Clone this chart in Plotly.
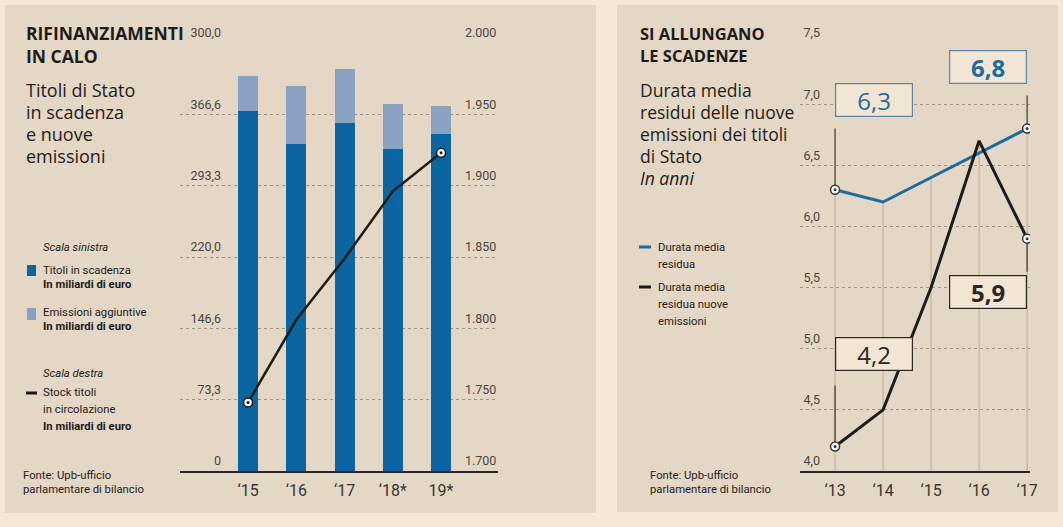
import plotly.graph_objects as go

# ---------------- data ----------------
years_left = ["\u201815", "\u201816", "\u201817", "\u201818*", "19*"]
titoli_scadenza = [370, 336, 358, 331, 346]
emissioni_aggiuntive = [36, 60, 55, 46, 29]
stock_titoli = [1748, 1806, 1849, 1896, 1923]

left_tickvals = [0, 73.33, 146.67, 220, 293.33, 366.67, 440]
left_ticktext = ["0", "73,3", "146,6", "220,0", "293,3", "366,6", "300,0"]
right_tickvals = [1700, 1750, 1800, 1850, 1900, 1950, 2000]
right_ticktext = ["1.700", "1.750", "1.800", "1.850", "1.900", "1.950", "2.000"]

years_right = ["\u201813", "\u201814", "\u201815", "\u201816", "\u201817"]
durata_residua = [6.3, 6.2, 6.4, 6.6, 6.8]
durata_nuove = [4.2, 4.5, 5.5, 6.7, 5.9]
r_tickvals = [4.0, 4.5, 5.0, 5.5, 6.0, 6.5, 7.0, 7.5]
r_ticktext = ["4,0", "4,5", "5,0", "5,5", "6,0", "6,5", "7,0", "7,5"]

# ---------------- style ----------------
W, H = 1063, 527
OUTER = "#f6e8d8"
PANEL = "#e5d7c5"
DARK_BLUE = "#0a65a0"
LIGHT_BLUE = "#8ba1c1"
LINE_BLUE = "#1b6d9f"
BLACK = "#1e1c1a"
GRID = "#a0927f"
DROP = "#bcab94"
TXT = "#1e1c1a"
TICK = "#4a4540"
FONT = "Roboto"
HFONT = "Open Sans"
BOXBG = "#f3e5d4"


def px(x):
    return x / W


def py(y):
    return 1 - y / H


def fmt(v):
    return f"{v:.1f}".replace(".", ",")


fig = go.Figure()

# ---------------- left chart ----------------
fig.add_trace(go.Bar(x=years_left, y=titoli_scadenza, marker_color=DARK_BLUE,
                     width=0.415, xaxis="x", yaxis="y", showlegend=False))
fig.add_trace(go.Bar(x=years_left, y=emissioni_aggiuntive, marker_color=LIGHT_BLUE,
                     width=0.415, xaxis="x", yaxis="y", showlegend=False))
fig.add_trace(go.Scatter(x=years_left, y=stock_titoli, mode="lines",
                         line=dict(color=BLACK, width=2.5), xaxis="x", yaxis="y2",
                         showlegend=False))
ends_x = [years_left[0], years_left[-1]]
ends_y = [stock_titoli[0], stock_titoli[-1]]
fig.add_trace(go.Scatter(x=ends_x, y=ends_y, mode="markers",
                         marker=dict(size=9, color="white", line=dict(color=BLACK, width=1.5)),
                         xaxis="x", yaxis="y2", showlegend=False))
fig.add_trace(go.Scatter(x=ends_x, y=ends_y, mode="markers",
                         marker=dict(size=3, color=BLACK),
                         xaxis="x", yaxis="y2", showlegend=False))

# ---------------- right chart ----------------
ymin = r_tickvals[0]
dx, dy = [], []
for yr, a, b in zip(years_right, durata_residua, durata_nuove):
    dx += [yr, yr, None]
    dy += [ymin, max(a, b), None]
fig.add_trace(go.Scatter(x=dx, y=dy, mode="lines", line=dict(color=DROP, width=1),
                         xaxis="x2", yaxis="y3", showlegend=False, hoverinfo="skip"))

# connectors to callout boxes
cx = [years_right[0], years_right[0], None, years_right[0], years_right[0], None,
      years_right[-1], years_right[-1], None, years_right[-1], years_right[-1]]
cy = [durata_residua[0], durata_residua[0] + 0.5, None,
      durata_nuove[0], durata_nuove[0] + 0.5, None,
      durata_residua[-1], durata_residua[-1] + 0.27, None,
      durata_nuove[-1], durata_nuove[-1] - 0.27]
fig.add_trace(go.Scatter(x=cx, y=cy, mode="lines", line=dict(color="#3a342e", width=1.2),
                         xaxis="x2", yaxis="y3", showlegend=False, hoverinfo="skip"))

fig.add_trace(go.Scatter(x=years_right, y=durata_residua, mode="lines",
                         line=dict(color=LINE_BLUE, width=3), xaxis="x2", yaxis="y3",
                         showlegend=False))
fig.add_trace(go.Scatter(x=years_right, y=durata_nuove, mode="lines",
                         line=dict(color=BLACK, width=3), xaxis="x2", yaxis="y3",
                         showlegend=False))
mx = [years_right[0], years_right[-1], years_right[0], years_right[-1]]
my = [durata_residua[0], durata_residua[-1], durata_nuove[0], durata_nuove[-1]]
fig.add_trace(go.Scatter(x=mx, y=my, mode="markers",
                         marker=dict(size=9, color="white", line=dict(color="#3a342e", width=1.5)),
                         xaxis="x2", yaxis="y3", showlegend=False))
fig.add_trace(go.Scatter(x=mx, y=my, mode="markers",
                         marker=dict(size=3, color="#3a342e"),
                         xaxis="x2", yaxis="y3", showlegend=False))

# ---------------- layout ----------------
ydom = [py(471), py(43)]
axis_common = dict(showgrid=False, zeroline=False, fixedrange=True, automargin=False)
tickfont_y = dict(size=12.5, color=TICK, family=FONT)
tickfont_x = dict(size=16, color="#3a3530", family=FONT)

layout = dict(
    template="none",
    width=W, height=H, autosize=False,
    margin=dict(l=0, r=0, t=0, b=0, pad=0),
    paper_bgcolor=OUTER, plot_bgcolor="rgba(0,0,0,0)",
    barmode="stack", bargap=0,
    font=dict(family=FONT, color=TXT),
    hovermode=False,
    xaxis=dict(domain=[px(180), px(498)], anchor="y", type="category",
               range=[-1.41, 5.18], showline=True, linecolor="#2b2825", linewidth=1.5,
               ticks="", tickfont=tickfont_x, ticklabelstandoff=4, **axis_common),
    yaxis=dict(domain=ydom, anchor="x", range=[0, 440], tickvals=left_tickvals,
               ticktext=left_ticktext, showgrid=True, gridcolor=GRID, griddash="dot",
               gridwidth=1, zeroline=False, ticks="", tickfont=tickfont_y,
               ticklabelposition="outside", ticklabelstandoff=-42, ticklabelshift=-10,
               fixedrange=True, automargin=False, showline=False),
    yaxis2=dict(overlaying="y", side="right", anchor="x", range=[1700, 2000],
                tickvals=right_tickvals, ticktext=right_ticktext, ticks="",
                tickfont=tickfont_y, ticklabelposition="outside", ticklabelstandoff=-34,
                ticklabelshift=-10, showline=False, **axis_common),
    xaxis2=dict(domain=[px(800), px(1030)], anchor="y3", type="category",
                range=[-0.73, 4.06], showline=True, linecolor="#2b2825", linewidth=1.5,
                ticks="", tickfont=tickfont_x, ticklabelstandoff=4, **axis_common),
    yaxis3=dict(domain=ydom, anchor="x2", range=[4.0, 7.5], tickvals=r_tickvals,
                ticktext=r_ticktext, showgrid=True, gridcolor=GRID, griddash="dot",
                gridwidth=1, zeroline=False, ticks="", tickfont=tickfont_y,
                ticklabelposition="outside", ticklabelstandoff=-21, ticklabelshift=-10,
                fixedrange=True, automargin=False, showline=False),
)
fig.update_layout(**layout)

shapes = [
    dict(type="rect", xref="paper", yref="paper", x0=px(5), x1=px(596), y0=py(513), y1=py(5),
         fillcolor=PANEL, line=dict(width=0), layer="below"),
    dict(type="rect", xref="paper", yref="paper", x0=px(617), x1=px(1058), y0=py(512), y1=py(5),
         fillcolor=PANEL, line=dict(width=0), layer="below"),
    # legend swatches left
    dict(type="rect", xref="paper", yref="paper", x0=px(27), x1=px(36), y0=py(276), y1=py(265),
         fillcolor=DARK_BLUE, line=dict(width=0)),
    dict(type="rect", xref="paper", yref="paper", x0=px(27), x1=px(36), y0=py(320), y1=py(308),
         fillcolor=LIGHT_BLUE, line=dict(width=0)),
    dict(type="line", xref="paper", yref="paper", x0=px(26), x1=px(37), y0=py(393), y1=py(393),
         line=dict(color=BLACK, width=3)),
    # legend swatches right
    dict(type="line", xref="paper", yref="paper", x0=px(639), x1=px(651), y0=py(247), y1=py(247),
         line=dict(color=LINE_BLUE, width=3)),
    dict(type="line", xref="paper", yref="paper", x0=px(639), x1=px(651), y0=py(287), y1=py(287),
         line=dict(color=BLACK, width=3)),
]
fig.update_layout(shapes=shapes)

ann = []


def text(x, y, s, size=12, bold=False, italic=False, color=TXT, family=FONT):
    if bold:
        s = f"<b>{s}</b>"
    if italic:
        s = f"<i>{s}</i>"
    ann.append(dict(x=px(x), y=py(y), xref="paper", yref="paper", text=s, showarrow=False,
                    xanchor="left", yanchor="middle",
                    font=dict(size=size, color=color, family=family)))


# left panel texts
text(24, 33, "RIFINANZIAMENTI", 17.5, bold=True, family=HFONT)
text(24, 56, "IN CALO", 17.5, bold=True, family=HFONT)
for i, s in enumerate(["Titoli di Stato", "in scadenza", "e nuove", "emissioni"]):
    text(24, 90 + 22 * i, s, 18, family=HFONT)
text(41, 247, "Scala sinistra", 11.3, italic=True)
text(41, 270, "Titoli in scadenza", 11.3)
text(41, 284, "In miliardi di euro", 11.3, bold=True)
text(41, 312, "Emissioni aggiuntive", 11.3)
text(41, 326, "In miliardi di euro", 11.3, bold=True)
text(41, 373, "Scala destra", 11.3, italic=True)
text(41, 392, "Stock titoli", 11.3)
text(41, 409, "in circolazione", 11.3)
text(41, 426, "In miliardi di euro", 11.3, bold=True)
text(21, 475, "Fonte: Upb-ufficio", 11.3)
text(21, 489, "parlamentare di bilancio", 11.3)

# right panel texts
text(638, 33, "SI ALLUNGANO", 16.5, bold=True, family=HFONT)
text(638, 56, "LE SCADENZE", 16.5, bold=True, family=HFONT)
for i, s in enumerate(["Durata media", "residui delle nuove", "emissioni dei titoli", "di Stato"]):
    text(638, 90 + 22 * i, s, 17.5, family=HFONT)
text(638, 178, "In anni", 17.5, italic=True, family=HFONT)
text(656, 247, "Durata media", 11.3)
text(656, 264, "residua", 11.3)
text(656, 287, "Durata media", 11.3)
text(656, 304, "residua nuove", 11.3)
text(656, 321, "emissioni", 11.3)
text(648, 475, "Fonte: Upb-ufficio", 11.3)
text(648, 489, "parlamentare di bilancio", 11.3)

# callout boxes
callouts = [
    (years_right[0], 7.03, fmt(durata_residua[0]), "left", LINE_BLUE, "#5a86a6", False),
    (years_right[-1], 7.30, fmt(durata_residua[-1]), "right", LINE_BLUE, "#5a86a6", True),
    (years_right[0], 4.96, fmt(durata_nuove[0]), "left", "#2a2623", "#2a2623", False),
    (years_right[-1], 5.46, fmt(durata_nuove[-1]), "right", "#2a2623", "#2a2623", True),
]
for xv, yv, s, anchor, col, bcol, bold in callouts:
    ann.append(dict(x=xv, y=yv, xref="x2", yref="y3", text=f"<b>{s}</b>" if bold else s,
                    showarrow=False, xanchor=anchor, yanchor="middle",
                    font=dict(size=24, color=col, family=HFONT),
                    bgcolor=BOXBG, bordercolor=bcol, borderwidth=1.2, borderpad=2,
                    width=72, height=28, align="center"))

fig.update_layout(annotations=ann)

fig.write_html("out.html", config={"displayModeBar": False},
               post_script="document.body.style.margin='0';document.body.style.overflow='hidden';")
